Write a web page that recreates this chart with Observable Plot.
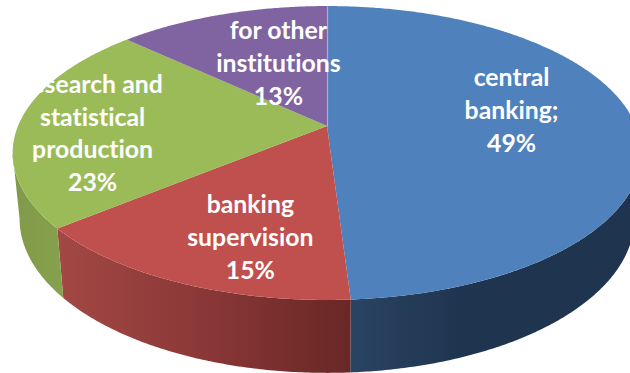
<!DOCTYPE html>
<html>
<head>
<meta charset="utf-8">
<script src="https://cdn.jsdelivr.net/npm/d3@7"></script>
<script src="https://cdn.jsdelivr.net/npm/@observablehq/plot@0.6"></script>
<style>
  html, body { margin: 0; padding: 0; background: #fff; overflow: hidden; }
  svg { display: block; }
  svg text { font-variant-ligatures: none; font-feature-settings: "liga" 0, "clig" 0; }
</style>
</head>
<body>
<div id="chart"></div>
<script>
// Shares of work by function, clockwise from twelve o'clock.
const categories = ["central banking", "banking supervision", "research", "other institutions"];
const shares = [49, 15, 23, 13];
const labelLines = [
  "central\nbanking;\n49%",
  "banking\nsupervision\n15%",
  "research and\nstatistical\nproduction\n23%",
  "for other\ninstitutions\n13%"
];
const topColors = ["#4f81bd", "#c0504d", "#9bbb59", "#8064a2"];
const wallFills = ["url(#wall-blue)", "url(#wall-red)", "url(#wall-green)", "#6a5387"];
// Label anchors on the pie, as degrees clockwise from the top and fraction of the radius.
const labelAngle = [79.3, 197.7, 266.3, 340.3];
const labelRadius = [0.619, 0.718, 0.755, 0.513];

// Perspective view of the disc.
const view = {cx: 327, cy: 126, a: 309, b: 142, k: 0.1837};
const wall = {scaleX: 0.978, scaleY: 1.049, baseY: 190.4};

function project(deg, r = 1) {
  const t = deg * Math.PI / 180;
  const w = 1 + view.k * r * Math.cos(t);
  return [
    view.cx + view.a * r * Math.sin(t) / w,
    view.cy - view.b * r * Math.cos(t) / w
  ];
}
function lower([x, y]) {
  return [view.cx + wall.scaleX * (x - view.cx), wall.baseY + wall.scaleY * (y - view.cy)];
}

// Cumulative angular extents of the slices.
const total = d3.sum(shares);
let running = 0;
const slices = shares.map((v, i) => {
  const start = running / total * 360;
  running += v;
  return {i, name: categories[i], start, end: running / total * 360};
});

function arcPoints(s, from, to) {
  const n = Math.ceil(to - from) * 2;
  return d3.range(n + 1).map((j) => {
    const deg = from + (to - from) * j / n;
    const top = project(deg);
    const low = lower(top);
    return {slice: s.i, deg, tx: top[0], ty: top[1], bx: low[0], by: low[1]};
  });
}

// The wall is only seen between the two silhouette angles of the projected disc.
const silhouette = Math.acos(-view.k) * 180 / Math.PI;
const rim = slices.flatMap((s) => arcPoints(s, s.start, s.end));
const wallBands = slices
  .filter((s) => s.end > silhouette && s.start < 360 - silhouette)
  .map((s) => ({
    i: s.i,
    points: arcPoints(s, Math.max(s.start, silhouette), Math.min(s.end, 360 - silhouette))
  }));

const labels = labelLines.map((text, i) => {
  const [x, y] = project(labelAngle[i], labelRadius[i]);
  return {text, x, y};
});

// Seam between the last slice and the first, running from the hub to the far edge.
const seam = [project(0, 0), project(0, 1)].map(([x, y]) => ({x, y}));

// Gradients for the shaded outer wall.
function wallDefs() {
  const defs = d3.create("svg:defs");
  const add = (id, x1, x2, stops) => {
    const g = defs.append("linearGradient").attr("id", id)
      .attr("gradientUnits", "userSpaceOnUse")
      .attr("x1", x1).attr("x2", x2).attr("y1", 0).attr("y2", 0);
    stops.forEach(([o, c]) => g.append("stop").attr("offset", o).attr("stop-color", c));
  };
  add("wall-blue", 351, 630, [[0, "#2a4463"], [0.4, "#1f344e"], [1, "#1f344e"]]);
  add("wall-red", 57, 351, [[0, "#a34845"], [0.5, "#8a3837"], [1, "#682725"]]);
  add("wall-green", 13, 65, [[0, "#82994a"], [1, "#86a24d"]]);
  return defs.node();
}

const chart = Plot.plot({
  width: 630,
  height: 373,
  margin: 0,
  style: {background: "#fff", overflow: "hidden"},
  x: {domain: [0, 630], range: [0, 630], axis: null},
  y: {domain: [0, 373], range: [0, 373], axis: null},
  marks: [
    wallDefs,
    // Outer wall, one band per visible slice.
    ...wallBands.map((b) => Plot.area(b.points, {
      x1: "tx", y1: "ty", x2: "bx", y2: "by", fill: wallFills[b.i]
    })),
    // Top face, each slice fanned out from the hub.
    ...slices.map((s, i) => Plot.area(rim.filter((d) => d.slice === i), {
      x1: () => view.cx, y1: () => view.cy, x2: "tx", y2: "ty", fill: topColors[i]
    })),
    Plot.line(seam, {x: "x", y: "y", stroke: "#b3a9cc", strokeWidth: 1.2}),
    Plot.text(labels, {
      x: "x", y: "y", text: "text",
      dy: -2,
      fill: "#fff",
      fontFamily: "Lato",
      fontWeight: 700,
      fontSize: 24.8,
      lineHeight: 1.32,
      textAnchor: "middle"
    })
  ]
});
document.getElementById("chart").appendChild(chart);
</script>
</body>
</html>
